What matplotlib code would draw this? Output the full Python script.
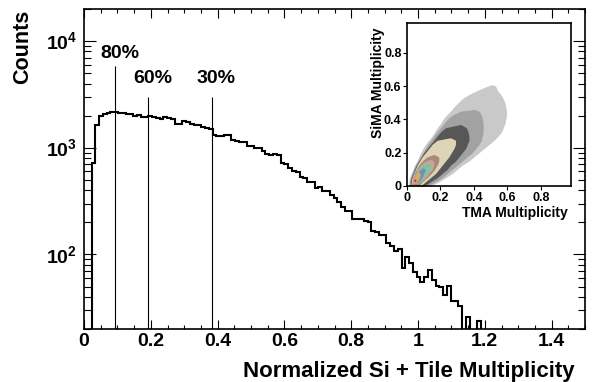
import numpy as np
import matplotlib
matplotlib.use("Agg")
import matplotlib.pyplot as plt
from matplotlib.ticker import LogLocator, NullFormatter, MultipleLocator

plt.rcParams['font.family'] = ['Liberation Sans', 'DejaVu Sans']
plt.rcParams['font.weight'] = 'bold'
plt.rcParams['mathtext.fontset'] = 'custom'
plt.rcParams['mathtext.rm'] = 'Liberation Sans:bold'
plt.rcParams['mathtext.bf'] = 'Liberation Sans:bold'

# main histogram: normalized Si + Tile multiplicity
bin_width = 0.01132
counts = [0, 0, 717, 1640, 2000, 2090, 2130, 2170, 2160, 2120,
          2110, 2070, 2060, 2000, 2010, 1950, 1960, 2000, 1930, 1890,
          1880, 1930, 1920, 1880, 1660, 1680, 1790, 1750, 1680, 1640,
          1620, 1580, 1540, 1510, 1310, 1300, 1290, 1320, 1310, 1180,
          1170, 1140, 1130, 1050, 1040, 1000, 990, 940, 870, 860,
          870, 860, 720, 700, 640, 600, 590, 530, 525, 480,
          478, 417, 432, 393, 390, 361, 341, 313, 281, 258,
          255, 215, 214, 213, 204, 203, 165, 161, 153, 152,
          128, 119, 107, 113, 74, 95, 84, 68, 61, 55,
          61, 71, 58, 51, 49, 42, 51, 37, 37, 33,
          0, 26, 0, 0, 24, 0]

# centrality cuts
cut_x = [0.093, 0.192, 0.382]
cut_top = [5850, 2970, 2970]
cut_labels = ['80%', '60%', '30%']
cut_label_y = [7730, 4430, 4430]

# inset: SiMA vs TMA contour bands, outer to inner.
# each band: SiMA rows and the TMA extent of the band on that row
band_sima = [
    [0, .025, .05, .075, .1, .125, .15, .175, .2, .225, .25, .275, .3, .325, .35, .375, .4, .425, .45, .475, .5, .525, .55, .575, .6, .61],
    [0, .025, .05, .075, .1, .125, .15, .175, .2, .225, .25, .275, .3, .325, .35, .375, .4, .425, .45, .46],
    [0, .025, .05, .075, .1, .125, .15, .175, .2, .225, .25, .275, .3, .325, .35, .37],
    [0, .025, .05, .075, .1, .125, .15, .175, .2, .225, .25, .275, .29],
    [0, .025, .05, .075, .1, .125, .15, .175, .19],
    [.015, .025, .05, .075, .1, .125, .15, .16],
    [.02, .025, .05, .075, .1, .125, .135],
    [.02, .025, .05, .075, .1, .11],
    [.02, .03, .05, .075, .085],
    [.025, .035, .045],
]
band_tma_lo = [
    [.01, .01, .015, .025, .035, .045, .06, .07, .08, .095, .11, .13, .15, .165, .18, .20, .215, .235, .26, .28, .305, .33, .37, .42, .48, .51],
    [.015, .015, .02, .03, .04, .05, .065, .08, .095, .11, .125, .145, .16, .18, .20, .22, .24, .27, .32, .40],
    [.02, .02, .025, .035, .045, .055, .07, .085, .10, .12, .14, .16, .18, .20, .23, .32],
    [.025, .025, .03, .04, .05, .06, .075, .09, .11, .13, .15, .18, .26],
    [.03, .03, .035, .045, .055, .07, .09, .12, .16],
    [.035, .033, .04, .05, .06, .08, .11, .14],
    [.04, .038, .045, .055, .07, .095, .12],
    [.04, .038, .045, .06, .08, .095],
    [.04, .035, .04, .055, .065],
    [.045, .04, .047],
]
band_tma_hi = [
    [.14, .19, .23, .27, .30, .33, .37, .40, .43, .46, .49, .52, .545, .565, .575, .585, .59, .595, .595, .59, .585, .575, .56, .54, .53, .51],
    [.12, .17, .21, .24, .27, .30, .33, .36, .39, .41, .43, .445, .45, .455, .455, .455, .45, .445, .43, .40],
    [.10, .14, .18, .21, .24, .26, .29, .31, .33, .35, .36, .37, .37, .365, .355, .32],
    [.08, .11, .14, .17, .19, .21, .23, .25, .265, .28, .29, .29, .26],
    [.07, .09, .12, .145, .165, .18, .19, .19, .16],
    [.06, .08, .11, .13, .15, .16, .16, .14],
    [.06, .075, .10, .12, .135, .14, .12],
    [.055, .07, .09, .10, .11, .095],
    [.05, .065, .075, .08, .065],
    [.047, .055, .047],
]
band_colors = ['#c9c9c9', '#a2a2a2', '#575757', '#ddd5b6', '#a9897a',
               '#c4a79c', '#72c9a2', '#8289b0', '#d4aa6a', '#e0205c']

fig = plt.figure(figsize=(5.92, 3.82), dpi=100)
ax = fig.add_axes([84 / 592, 53 / 382, 501 / 592, 320 / 382])

edges = np.arange(len(counts) + 1) * bin_width
ax.stairs(np.clip(counts, 1, None), edges, baseline=None, color='black', lw=1.5)

ax.vlines(cut_x, 20, cut_top, color='black', lw=0.8)
for x, y, lab in zip(cut_x, cut_label_y, cut_labels):
    ax.text(x + 0.014, y, lab, ha='center', va='center', fontsize=14, fontweight='bold')

ax.set_yscale('log')
ax.set_xlim(0, 1.5)
ax.set_ylim(20, 2e4)
ax.set_xticks([0, 0.2, 0.4, 0.6, 0.8, 1.0, 1.2, 1.4],
              labels=['0', '0.2', '0.4', '0.6', '0.8', '1', '1.2', '1.4'])
ax.xaxis.set_minor_locator(MultipleLocator(0.05))
ax.set_yticks([1e2, 1e3, 1e4], labels=[r'$10^{2}$', r'$10^{3}$', r'$10^{4}$'])
ax.yaxis.set_minor_locator(LogLocator(base=10, subs=np.arange(2, 10)))
ax.yaxis.set_minor_formatter(NullFormatter())
ax.tick_params(which='both', direction='in', top=True, right=True, width=0.8, labelsize=14)
ax.tick_params(axis='x', which='major', length=6.5, pad=3)
ax.tick_params(axis='x', which='minor', length=3)
ax.tick_params(axis='y', which='major', length=8.5, pad=5)
ax.tick_params(axis='y', which='minor', length=5)
for s in ax.spines.values():
    s.set_linewidth(1.2)

ax.set_xlabel('Normalized Si + Tile Multiplicity', fontsize=16, fontweight='bold', loc='right')
ax.xaxis.set_label_coords(0.98, -0.10)
ax.set_ylabel('Counts', fontsize=15.5, fontweight='bold', loc='top')
ax.yaxis.set_label_coords(-0.102, 0.997)

# inset contour
ins = fig.add_axes([407 / 592, 196 / 382, 164 / 592, 163 / 382])
for yy, lo, hi, col in zip(band_sima, band_tma_lo, band_tma_hi, band_colors):
    ins.fill_betweenx(yy, lo, hi, color=col, lw=0)
ins.set_xlim(0, 0.98)
ins.set_ylim(0, 0.98)
ins.set_xticks([0, 0.2, 0.4, 0.6, 0.8], labels=['0', '0.2', '0.4', '0.6', '0.8'])
ins.set_yticks([0, 0.2, 0.4, 0.6, 0.8], labels=['0', '0.2', '0.4', '0.6', '0.8'])
ins.tick_params(direction='out', length=3, width=0.8, labelsize=9, pad=1)
for s in ins.spines.values():
    s.set_linewidth(1.2)
ins.set_xlabel('TMA Multiplicity', fontsize=10, fontweight='bold', loc='right')
ins.xaxis.set_label_coords(0.98, -0.12)
ins.set_ylabel('SiMA Multiplicity', fontsize=10, fontweight='bold', loc='top')
ins.yaxis.set_label_coords(-0.134, 0.97)

fig.savefig('out.png', dpi=100)
